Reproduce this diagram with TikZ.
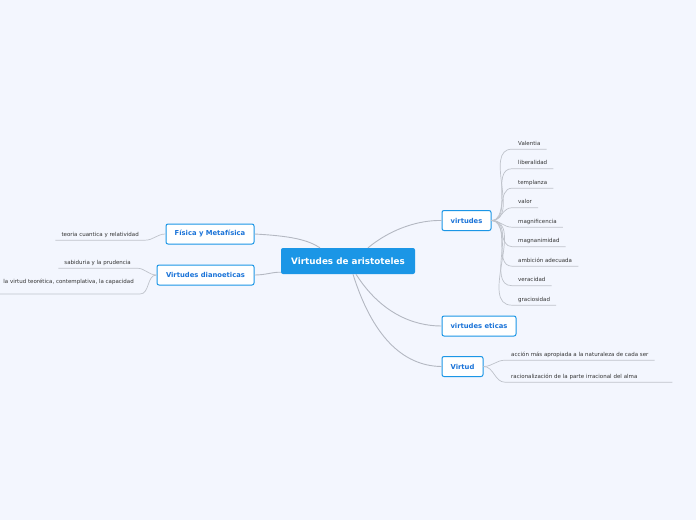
\documentclass[tikz,border=0pt]{standalone}
\usepackage{fontspec}
\setmainfont{DejaVu Sans}
\usetikzlibrary{positioning}
\definecolor{bgblue}{HTML}{F3F6FE}
\definecolor{mapblue}{HTML}{1B96E6}
\definecolor{topicblue}{HTML}{1A73D8}
\definecolor{linegray}{HTML}{B4B8C2}
\definecolor{leaftext}{HTML}{333333}
\tikzset{
  rootnode/.style={fill=mapblue, rounded corners=2pt, text=white, font=\fontsize{8.8}{10}\selectfont\bfseries, minimum width=134pt, minimum height=26pt, inner sep=0pt},
  topicnode/.style={draw=mapblue, line width=1pt, fill=white, rounded corners=2pt, text=topicblue, font=\fontsize{6.8}{8}\selectfont\bfseries, minimum height=20pt, inner sep=0pt},
  leafnode/.style={font=\fontsize{5.5}{6.5}\selectfont, text=leaftext, inner xsep=6pt, inner ysep=2.8pt, text height=4pt, text depth=1.2pt, anchor=base west},
  branch/.style={draw=linegray, line width=0.9pt},
  twig/.style={draw=linegray!85, line width=0.7pt}
}
\begin{document}
\begin{tikzpicture}[x=1pt, y=-1pt]
  \fill[bgblue] (0,0) rectangle (696,520);
  \useasboundingbox (0,0) rectangle (696,520);

  % central topic and main topics
  \node[rootnode] (root) at (348,261) {Virtudes de aristoteles};
  \node[topicnode, minimum width=49pt] (virt) at (466.5,220.5) {virtudes};
  \node[topicnode, minimum width=88pt] (fis) at (210,234) {Física y Metafísica};
  \node[topicnode, minimum width=97pt] (dian) at (205.5,275) {Virtudes dianoeticas};
  \node[topicnode, minimum width=74pt] (etic) at (479,326) {virtudes eticas};
  \node[topicnode, minimum width=41pt] (vd) at (462.5,366.5) {Virtud};

  \draw[branch] ([xshift=20pt]root.north) .. controls (392,228) and (420,220) .. (virt.west);
  \draw[branch] (fis.east) .. controls (292,236) and (308,240) .. ([xshift=-28pt]root.north);
  \draw[branch] (dian.east) .. controls (266,275) and (272,272) .. ([yshift=2pt]root.south west);
  \draw[branch] ([xshift=8pt]root.south) .. controls (380,312) and (412,326) .. (etic.west);
  \draw[branch] ([xshift=5pt]root.south) .. controls (372,335) and (402,366) .. (vd.west);

  % virtudes
  \foreach \txt [count=\i] in {Valentia, liberalidad, templanza, valor, magnificencia, magnanimidad, ambición adecuada, veracidad, graciosidad} {
    \node[leafnode] (v\i) at (512,{145+19.5*(\i-1)}) {\txt};
    \draw[twig] (virt.east) to[out=0, in=180] (v\i.south west) -- (v\i.south east);
  }

  % Fisica y Metafisica
  \node[leafnode, anchor=base east] (fis1) at (145,236) {teoria cuantica y relatividad};
  \draw[twig] (fis.west) to[out=180, in=0] (fis1.south east) -- (fis1.south west);

  % Virtudes dianoeticas
  \node[leafnode, anchor=base east] (dian1) at (137,264) {sabiduria y la prudencia};
  \node[leafnode, anchor=base east, text depth=8pt] (dian2) at (140,283) {la virtud teorética, contemplativa, la capacidad};
  \draw[twig] (dian.west) to[out=180, in=0] (dian1.south east) -- (dian1.south west);
  \draw[twig] (dian.west) to[out=180, in=0] (dian2.south east) -- (dian2.south west);

  % Virtud
  \node[leafnode] (vd1) at (505,356) {acción más apropiada a la naturaleza de cada ser};
  \node[leafnode, text width=155pt] (vd2) at (505,378) {racionalización de la parte irracional del alma};
  \draw[twig] (vd.east) to[out=0, in=180] (vd1.south west) -- (vd1.south east);
  \draw[twig] (vd.east) to[out=0, in=180] (vd2.south west) -- (vd2.south east);
\end{tikzpicture}
\end{document}
